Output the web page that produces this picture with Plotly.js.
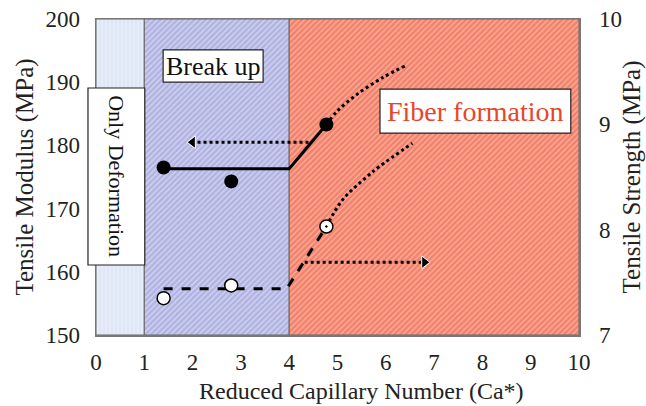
<!DOCTYPE html>
<html>
<head>
<meta charset="utf-8">
<script src="https://cdn.plot.ly/plotly-3.0.1.min.js"></script>
<style>html,body{margin:0;padding:0;background:#fff;}#chart{width:646px;height:406px;}</style>
</head>
<body>
<div id="chart"></div>
<script>
// Regions along Ca*
const regionNames = ['Only Deformation', 'Break up', 'Fiber formation'];
const regionStart = [0, 1, 4];
const regionEnd = [1, 4, 10];

// Tensile modulus (left axis, MPa)
const modulusX = [1.4, 2.8, 4.77];
const modulusY = [176.5, 174.3, 183.3];
const modulusFitX = [1.4, 4.0, 4.77];
const modulusFitY = [176.3, 176.3, 183.3];
const modulusTrendX = [4.77, 4.98, 5.39, 5.93, 6.43];
const modulusTrendY = [183.3, 185.3, 188.0, 190.7, 192.7];
const modulusArrowX = [4.4, 2.0];
const modulusArrowY = [180.5, 180.5];

// Tensile strength (right axis, MPa)
const strengthX = [1.4, 2.8, 4.77];
const strengthY = [7.35, 7.47, 8.03];
const strengthFitX = [1.4, 3.95, 4.77];
const strengthFitY = [7.44, 7.44, 8.03];
const strengthTrendX = [4.77, 5.10, 5.60, 5.87, 6.55];
const strengthTrendY = [8.03, 8.28, 8.50, 8.60, 8.82];
const strengthArrowX = [4.32, 6.8];
const strengthArrowY = [7.69, 7.69];

const xTicks = [0,1,2,3,4,5,6,7,8,9,10];
const yTicks = [150,160,170,180,190,200];
const y2Ticks = [7,8,9,10];
const xTitle = 'Reduced Capillary Number (Ca*)';

const FONT = 'Liberation Serif, Times New Roman, serif';
const TICK = 23;
const TITLE = 25;

const regionColors = ['#dde7f5', '#b1b4e2', '#f4816a'];
const regionFg = ['#edf2fa', '#d6d8f1', '#f9b4a4'];
const regionPattern = ['|', '/', '/'];

const bars = regionStart.map((s, i) => ({
  type: 'bar',
  x: [(s + regionEnd[i]) / 2],
  width: [regionEnd[i] - s],
  y: [50],
  base: [150],
  marker: {
    color: regionColors[i],
    line: {color: '#666', width: 1},
    pattern: {shape: regionPattern[i], fgcolor: regionFg[i], bgcolor: regionColors[i], fgopacity: 1, size: 4, solidity: 0.3, fillmode: 'overlay'}
  },
  hoverinfo: 'skip', showlegend: false
}));

const traces = bars.concat([
  {x: modulusFitX, y: modulusFitY, mode: 'lines', line: {color: '#000', width: 3}, showlegend: false, hoverinfo: 'skip'},
  {x: modulusTrendX, y: modulusTrendY, mode: 'lines', line: {color: '#000', width: 3, dash: 'dot', shape: 'spline'}, showlegend: false, hoverinfo: 'skip'},
  {x: modulusArrowX, y: modulusArrowY, mode: 'lines+markers', line: {color: '#000', width: 3, dash: 'dot'},
   marker: {symbol: 'triangle-left', size: [0, 11], opacity: [0, 1], color: '#000'}, showlegend: false, hoverinfo: 'skip'},
  {x: modulusX, y: modulusY, mode: 'markers', marker: {color: '#000', size: 14, symbol: 'circle'}, showlegend: false, hoverinfo: 'skip'},
  {x: strengthFitX, y: strengthFitY, yaxis: 'y2', mode: 'lines', line: {color: '#000', width: 3, dash: 'dash'}, showlegend: false, hoverinfo: 'skip'},
  {x: strengthTrendX, y: strengthTrendY, yaxis: 'y2', mode: 'lines', line: {color: '#000', width: 3, dash: 'dot', shape: 'spline'}, showlegend: false, hoverinfo: 'skip'},
  {x: strengthArrowX, y: strengthArrowY, yaxis: 'y2', mode: 'lines+markers', line: {color: '#000', width: 3, dash: 'dot'},
   marker: {symbol: 'triangle-right', size: [0, 11], opacity: [0, 1], color: '#000'}, showlegend: false, hoverinfo: 'skip'},
  {x: strengthX, y: strengthY, yaxis: 'y2', mode: 'markers',
   marker: {color: '#fff', size: 13, symbol: ['circle', 'circle', 'circle-dot'], line: {color: '#000', width: 1.5}}, showlegend: false, hoverinfo: 'skip'}
]);

const layout = {
  width: 646, height: 406,
  margin: {l: 96, r: 67, t: 19, b: 71},
  paper_bgcolor: '#fff', plot_bgcolor: '#fff',
  font: {family: FONT, size: TICK, color: '#222'},
  bargap: 0, barmode: 'overlay',
  xaxis: {
    range: [0, 10], tickvals: xTicks, ticktext: xTicks.map(String),
    showgrid: false, zeroline: false, showline: true, mirror: true, linecolor: '#777', linewidth: 1.5,
    ticks: '', ticklabelstandoff: 6, tickfont: {size: TICK, family: FONT, color: '#222'}
  },
  yaxis: {
    range: [150, 200], tickvals: yTicks, ticktext: yTicks.map(String),
    showgrid: false, zeroline: false, showline: true, mirror: false, linecolor: '#777', linewidth: 1.5,
    ticks: '', ticklabelstandoff: 10, tickfont: {size: TICK, family: FONT, color: '#222'},
    title: {text: 'Tensile Modulus (MPa)', font: {size: TITLE, family: FONT, color: '#222'}, standoff: 4}
  },
  yaxis2: {
    range: [7, 10], tickvals: y2Ticks, ticktext: y2Ticks.map(String),
    overlaying: 'y', side: 'right',
    showgrid: false, zeroline: false, showline: true, linecolor: '#777', linewidth: 1.5,
    ticks: '', ticklabelstandoff: 14, tickfont: {size: TICK, family: FONT, color: '#222'},
    title: {text: 'Tensile Strength (MPa)', font: {size: TITLE, family: FONT, color: '#222'}, standoff: 10}
  },
  shapes: [
    {type: 'rect', xref: 'paper', yref: 'paper', x0: -0.0166, x1: 0.101, y0: 0.2215, y1: 0.7816,
     fillcolor: '#fff', line: {color: '#222', width: 1.2}, layer: 'above'},
    {type: 'rect', xref: 'paper', yref: 'paper', x0: 0.139, x1: 0.346, y0: 0.80, y1: 0.902,
     fillcolor: '#fff', line: {color: '#222', width: 1.2}, layer: 'above'},
    {type: 'rect', xref: 'paper', yref: 'paper', x0: 0.588, x1: 0.983, y0: 0.639, y1: 0.778,
     fillcolor: '#fff', line: {color: '#222', width: 1.2}, layer: 'above'}
  ],
  annotations: [
    {xref: 'paper', yref: 'paper', x: 0.0422, y: 0.5015, text: regionNames[0], showarrow: false, textangle: 90,
     font: {size: 22, family: FONT, color: '#111'}, xanchor: 'center', yanchor: 'middle'},
    {xref: 'paper', yref: 'paper', x: 0.2425, y: 0.851, text: regionNames[1], showarrow: false,
     font: {size: 26, family: FONT, color: '#111'}, xanchor: 'center', yanchor: 'middle'},
    {xref: 'paper', yref: 'paper', x: 0.7855, y: 0.7085, text: regionNames[2], showarrow: false,
     font: {size: 28, family: FONT, color: '#e8452b'}, xanchor: 'center', yanchor: 'middle'},
    {xref: 'paper', yref: 'paper', x: 0.549, y: -0.178, text: xTitle, showarrow: false,
     font: {size: 24, family: FONT, color: '#222'}, xanchor: 'center', yanchor: 'middle'}
  ]
};

Plotly.newPlot('chart', traces, layout, {displayModeBar: false, staticPlot: true});
</script>
</body>
</html>
